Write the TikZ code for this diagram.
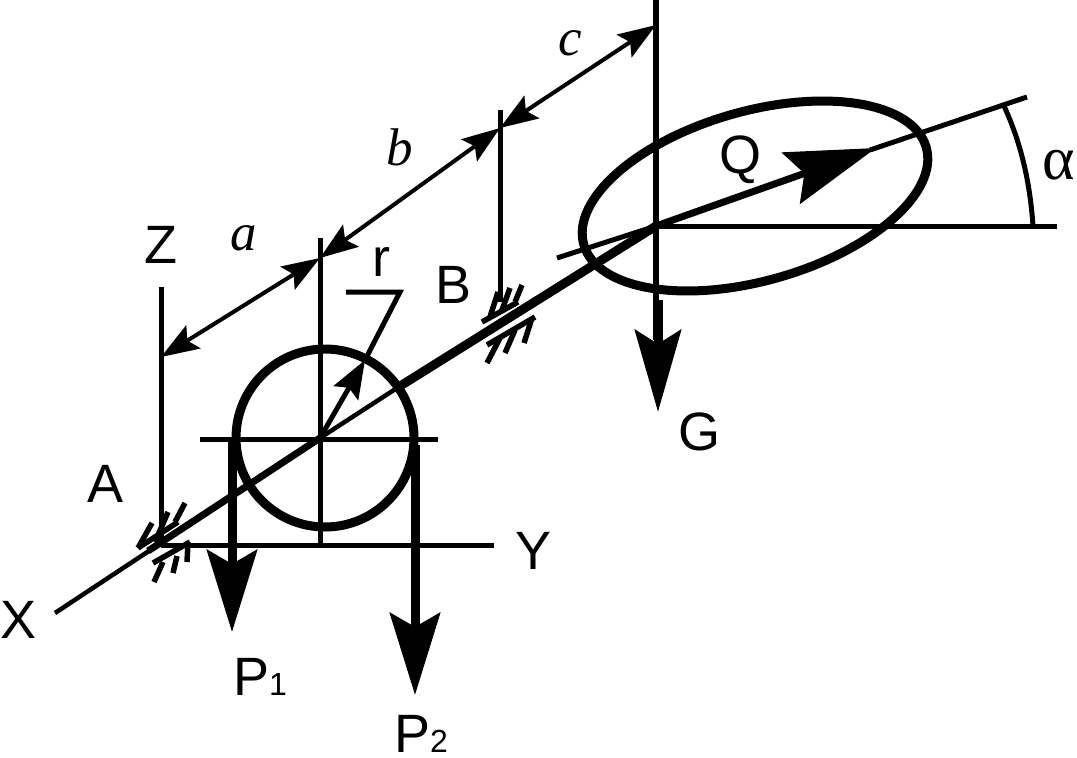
\documentclass[tikz,border=0pt]{standalone}
\usepackage{fontspec}
\setmainfont{Liberation Sans}
\newfontfamily\serifit[ItalicFont=Liberation Serif Italic]{Liberation Serif}
\usetikzlibrary{arrows.meta}
\tikzset{
  thinln/.style={line width=5pt},
  medln/.style={line width=6pt},
  thickln/.style={line width=9pt},
  hatch/.style={line width=5.5pt},
  dimln/.style={line width=4pt,{Stealth[length=38pt,width=27pt,inset=7pt]}-{Stealth[length=38pt,width=27pt,inset=7pt]}},
  bighead/.style={-{Stealth[length=82pt,width=50pt,inset=14pt]}},
  lab/.style={font=\fontsize{54}{54}\selectfont,inner sep=0pt,anchor=center},
  ilab/.style={font=\serifit\itshape\fontsize{53}{53}\selectfont,inner sep=0pt,anchor=center}
}
\begin{document}
\begin{tikzpicture}[x=1pt,y=-1pt]
\useasboundingbox (0,0) rectangle (1077,758);
% key points
\coordinate (O) at (320,438);
\coordinate (Xend) at (55,613);
\coordinate (C) at (656,226);
\coordinate (Aa) at (161,357);
\coordinate (Ab) at (320,258);
\coordinate (Ac) at (500,128);
\coordinate (Ad) at (656,25);
% axes
\draw[line width=4.5pt] (Xend) -- (O);
\draw[line width=7pt] (148,551) -- (O);
\draw[line width=4.5pt] (O) -- (397,388);
\draw[thickln] (397,388) -- (C);
\draw[thinln] (200,439) -- (438,439);
\draw[thinln] (320,238) -- (320,545);
\draw[thinln] (161,545) -- (494,545);
\draw[thinln] (161,287) -- (161,545);
\draw[thinln] (500,110) -- (500,302);
\draw[thinln] (C) -- (1057,226);
% circle and ropes
\draw[thickln] (325,438) circle (89);
\draw[thickln,bighead] (232,439) -- (232,632);
\draw[thickln,bighead] (415,445) -- (415,695);
% r leader
\coordinate (Rt) at (365,360);
\draw[thinln] (346,292) -- (400,292) -- (Rt);
\draw[thinln,-{Stealth[length=38pt,width=28pt,inset=6pt]}] (O) -- (Rt);
% disc
\draw[thickln,rotate around={15.85:(755,196)}] (755,196) ellipse (178 and 84.8);
% Q line
\draw[thinln] (557,258) -- (C);
\draw[thinln] (870,150) -- (1027,97);
\draw[line width=7pt,-{Stealth[length=90pt,width=54pt,inset=14pt]}] (C) -- (876,148);
% G
\draw[medln] (656,0) -- (656,340);
\draw[thickln,-{Stealth[length=82pt,width=46pt,inset=14pt]}] (658,300) -- (658,412);
% dimension arrows
\draw[dimln] (Aa) -- (Ab);
\draw[dimln] (Ab) -- (Ac);
\draw[dimln] (Ac) -- (Ad);
% alpha arc
\draw[thinln] (1033,226) .. controls (1030,182) and (1021,143) .. (1004,106);
% hatch A
\draw[hatch] (138,548) -- (178,522);
\draw[hatch] (138,548) -- (152,523);
\draw[hatch] (155,542) -- (168,512);
\draw[hatch] (175,522) -- (185,503);
\draw[hatch] (153,563) -- (190,542);
\draw[hatch] (163,562) -- (154,582);
\draw[hatch] (177,556) -- (173,573);
\draw[hatch] (188,542) -- (187,562);
% hatch B
\draw[hatch] (482,322) -- (518,302);
\draw[hatch] (490,317) -- (498,292);
\draw[hatch] (502,310) -- (510,288);
\draw[hatch] (515,302) -- (522,285);
\draw[hatch] (487,345) -- (535,317);
\draw[hatch] (500,338) -- (487,363);
\draw[hatch] (515,330) -- (505,353);
\draw[hatch] (532,318) -- (524,343);
% labels
\node[lab] (lZ) at (161,245) {Z};
\node[lab] (lA) at (106,484) {A};
\node[lab] (lB) at (454,285) {B};
\node[lab] (lX) at (19,620) {X};
\node[lab] (lY) at (534,551) {Y};
\node[lab] (lQ) at (740,160) {Q};
\node[lab] (lr) at (381,262) {r};
\node[lab] (lG) at (699,432) {G};
\node[lab,anchor=base west] (lP1) at (233,695) {P\fontsize{32}{32}\selectfont 1};
\node[lab,anchor=base west] (lP2) at (394,752) {P\fontsize{32}{32}\selectfont 2};
\node[ilab] (la) at (244,238) {a};
\node[ilab] (lb) at (400,147) {b};
\node[ilab] (lc) at (570,43) {c};
\node[lab,font=\serifit\fontsize{62}{62}\selectfont] (lalpha) at (1059,165) {α};
\end{tikzpicture}
\end{document}
